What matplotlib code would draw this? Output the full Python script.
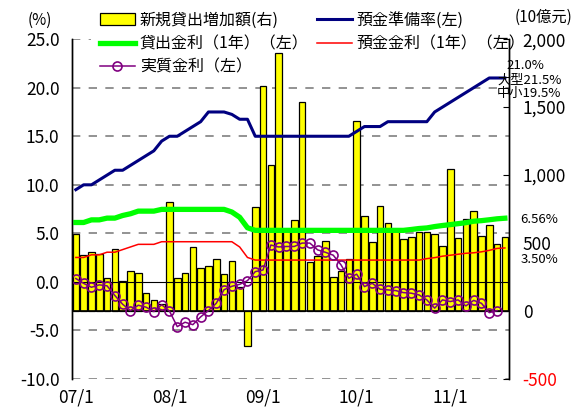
import numpy as np
import matplotlib.pyplot as plt
from matplotlib.ticker import FuncFormatter

plt.rcParams['font.family'] = ['Noto Sans CJK JP', 'DejaVu Sans']
plt.rcParams['axes.unicode_minus'] = False

# ---------------- data ----------------
tick_months = [0, 12, 24, 36, 48]
tick_labels = ["07/1", "08/1", "09/1", "10/1", "11/1"]

# new loans, 10億元 (right axis), 07/1 .. 11/8
new_loans = [
    570, 412, 437, 418, 246, 455, 224, 298, 279, 132, 82, 50,
    802, 244, 283, 470, 315, 330, 380, 270, 371, 178, -255, 766,
    1657, 1075, 1900, 592, 668, 1535, 362, 408, 518, 250, 292, 381,
    1400, 702, 511, 775, 645, 602, 531, 543, 580, 585, 567, 480,
    1043, 535, 677, 739, 549, 634, 494, 548,
]

# rates, % (left axis)
reserve_ratio = [
    9.5, 10.0, 10.0, 10.5, 11.0, 11.5, 11.5, 12.0, 12.5, 13.0, 13.5, 14.5,
    15.0, 15.0, 15.5, 16.0, 16.5, 17.5, 17.5, 17.5, 17.25, 16.75, 16.75, 15.0,
    15.0, 15.0, 15.0, 15.0, 15.0, 15.0, 15.0, 15.0, 15.0, 15.0, 15.0, 15.0,
    15.5, 16.0, 16.0, 16.0, 16.5, 16.5, 16.5, 16.5, 16.5, 16.5, 17.5, 18.0,
    18.5, 19.0, 19.5, 20.0, 20.5, 21.0, 21.0, 21.0,
]
loan_rate = [
    6.12, 6.12, 6.39, 6.39, 6.57, 6.57, 6.84, 7.02, 7.29, 7.29, 7.29, 7.47,
    7.47, 7.47, 7.47, 7.47, 7.47, 7.47, 7.47, 7.47, 7.2, 6.66, 5.58, 5.31,
    5.31, 5.31, 5.31, 5.31, 5.31, 5.31, 5.31, 5.31, 5.31, 5.31, 5.31, 5.31,
    5.31, 5.31, 5.31, 5.31, 5.31, 5.31, 5.31, 5.4, 5.5, 5.56, 5.7, 5.81,
    5.9, 6.0, 6.1, 6.25, 6.31, 6.4, 6.5, 6.56,
]
deposit_rate = [
    2.52, 2.52, 2.79, 2.79, 3.06, 3.06, 3.33, 3.60, 3.87, 3.87, 3.87, 4.14,
    4.14, 4.14, 4.14, 4.14, 4.14, 4.14, 4.14, 4.14, 4.14, 3.6, 2.52, 2.25,
    2.25, 2.25, 2.25, 2.25, 2.25, 2.25, 2.25, 2.25, 2.25, 2.25, 2.25, 2.25,
    2.25, 2.25, 2.25, 2.25, 2.25, 2.25, 2.25, 2.25, 2.25, 2.4, 2.5, 2.65,
    2.75, 2.85, 2.95, 3.0, 3.1, 3.25, 3.45, 3.5,
]
real_rate = [
    0.35, -0.15, -0.55, -0.3, -0.4, -1.4, -2.3, -2.95, -2.4, -2.6, -3.05, -2.35,
    -3.0, -4.6, -4.15, -4.4, -3.6, -2.95, -2.2, -0.8, -0.45, -0.25, 0.13, 1.06,
    1.23, 3.8, 3.6, 3.65, 3.65, 4.0, 4.0, 3.3, 3.05, 2.75, 1.75, 0.38,
    0.8, -0.48, -0.14, -0.75, -0.82, -0.89, -1.1, -1.16, -1.34, -1.85, -2.7, -1.85,
    -2.02, -1.85, -2.47, -1.9, -2.2, -3.16, -2.95,
]

left_ticks = [25, 20, 15, 10, 5, 0, -5, -10]
right_ticks = [2000, 1500, 1000, 500, 0, -500]

months = np.arange(len(new_loans))

# ---------------- figure ----------------
fig = plt.figure(figsize=(5.71, 4.12), dpi=100)
ax_r = fig.add_axes([0.126, 0.080, 0.765, 0.825])
ax_l = ax_r.twinx()
ax_r.yaxis.tick_right()
ax_l.yaxis.tick_left()

ax_r.set_xlim(-0.5, len(months) - 0.5)
ax_r.set_ylim(-500, 2000)
ax_l.set_ylim(-10, 25)

for ax in (ax_r, ax_l):
    ax.spines['top'].set_visible(False)
    ax.spines['bottom'].set_visible(False)
    ax.spines['left'].set_linewidth(1.0)
    ax.spines['right'].set_linewidth(1.0)

# dashed grid (left scale), behind bars
grid_vals = [20, 15, 10, 5, -5, -10]
ax_r.hlines(grid_vals, -0.5, len(months) - 0.5, transform=ax_l.transData,
            colors='#808080', linestyles=(0, (5, 5)), linewidth=1.2, zorder=1)
ax_r.hlines([25], -0.5, 2.0, transform=ax_l.transData,
            colors='#808080', linestyles=(0, (5, 5)), linewidth=1.2, zorder=1)

bars = ax_r.bar(months, new_loans, width=0.85, color='#FFFF00',
                edgecolor='black', linewidth=0.9, zorder=2,
                label='新規貸出増加額(右)')
ax_r.axhline(0, color='black', linewidth=1.2, zorder=3)

ax_l.axhline(0, color='black', linewidth=0.8, zorder=1)
l_res, = ax_l.plot(months, reserve_ratio, color='#000080', linewidth=2.2,
                   label='預金準備率(左)')
l_loan, = ax_l.plot(months, loan_rate, color='#00FF00', linewidth=3.8,
                    label='貸出金利（1年）（左）')
l_dep, = ax_l.plot(months, deposit_rate, color='#FF0000', linewidth=1.1,
                   label='預金金利（1年）（左）')
l_real, = ax_l.plot(months[:len(real_rate)], real_rate, color='#800080',
                    linewidth=1.1, marker='o', markersize=6.5,
                    markerfacecolor='none', markeredgewidth=1.2,
                    label='実質金利（左）')

# ticks
ax_r.set_xticks(tick_months, tick_labels)
ax_r.tick_params(axis='x', length=0, pad=7, labelsize=12.5)

ax_l.set_yticks(left_ticks)
ax_l.yaxis.set_major_formatter(FuncFormatter(lambda v, p: f"{v:.1f}"))
ax_l.tick_params(axis='y', direction='in', length=0, pad=9, labelsize=12.5)

ax_r.set_yticks(right_ticks)
ax_r.yaxis.set_major_formatter(FuncFormatter(lambda v, p: f"{int(v):,}"))
ax_r.tick_params(axis='y', direction='in', length=4, pad=10, labelsize=12.5)
for lab, v in zip(ax_r.get_yticklabels(), right_ticks):
    if v < 0:
        lab.set_color('red')

# unit labels
fig.text(0.07, 0.951, '(%)', ha='center', va='center', fontsize=11)
fig.text(0.951, 0.959, '(10億元)', ha='center', va='center', fontsize=11)

# end-value notes
ax_l.text(57.6, 22.3, '21.0%', ha='center', va='center', fontsize=9.5, clip_on=False)
ax_l.text(54.0, 20.8, '大型21.5%', ha='left', va='center', fontsize=9.5, clip_on=False)
ax_l.text(54.0, 19.4, '中小19.5%', ha='left', va='center', fontsize=9.5, clip_on=False)
ax_l.text(57.0, 6.4, '6.56%', ha='left', va='center', fontsize=9.5, clip_on=False)
ax_l.text(57.0, 2.35, '3.50%', ha='left', va='center', fontsize=9.5, clip_on=False)

# legend
handles = [bars, l_loan, l_real, l_res, l_dep]
labels = [h.get_label() for h in handles]
ax_l.legend(handles, labels, ncol=2, loc='upper left',
            bbox_to_anchor=(0.175, 0.972), bbox_transform=fig.transFigure,
            frameon=False, fontsize=11.5, handlelength=2.2, handletextpad=0.3,
            columnspacing=0.5, labelspacing=0.42, borderpad=0, borderaxespad=0)

fig.savefig('out.png', dpi=100)
